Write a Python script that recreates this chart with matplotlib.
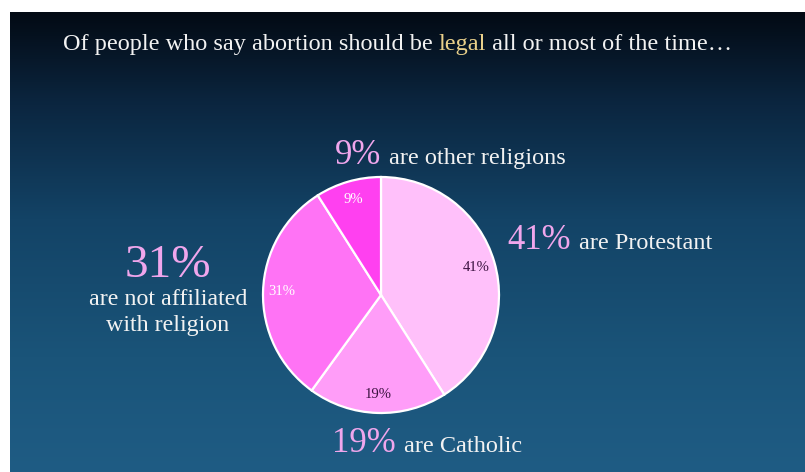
import matplotlib.pyplot as plt
import numpy as np
from matplotlib.colors import LinearSegmentedColormap

# data
groups = ['Protestant', 'Catholic', 'not affiliated', 'other religions']
shares = [41, 19, 31, 9]
slice_colors = ['#ffc0fa', '#ff9df8', '#ff73f5', '#ff40f0']
inner_text_colors = ['#3b1240', '#3b1240', '#ffffff', '#ffffff']

title_parts = ['Of people who say abortion should be ', 'legal',
               ' all or most of the time\u2026']
title_colors = ['#f2f2f2', '#e9d08a', '#f2f2f2']

W, H = 805, 472
serif = ['Liberation Serif', 'DejaVu Serif']

fig = plt.figure(figsize=(W / 100, H / 100), dpi=100)
fig.patch.set_facecolor('white')

# background with vertical gradient, pixel coordinates
bg = fig.add_axes([0, 0, 1, 1])
bg.set_xlim(0, W)
bg.set_ylim(H, 0)
bg.axis('off')
grad = LinearSegmentedColormap.from_list(
    'bg', [(0, '#030a14'), (0.2, '#0b2640'), (0.45, '#134366'),
           (0.75, '#1a5479'), (1, '#1f5c84')])
g = np.linspace(0, 1, 256).reshape(-1, 1)
bg.imshow(g, cmap=grad, extent=[10, W, H, 12], aspect='auto', zorder=0)

# pie
cx, cy, r = 381, 295, 118
pax = fig.add_axes([(cx - r) / W, (H - cy - r) / H, 2 * r / W, 2 * r / H])
wedges, _, autotexts = pax.pie(
    shares, colors=slice_colors, startangle=90, counterclock=False,
    autopct='%d%%', pctdistance=0.84,
    wedgeprops=dict(edgecolor='white', linewidth=1.6))
for w in wedges:
    w.set_clip_on(False)
for t, c in zip(autotexts, inner_text_colors):
    t.set_color(c)
    t.set_fontsize(10.5)
    t.set_family(serif)
pax.set_xlim(-1, 1)
pax.set_ylim(-1, 1)
pax.axis('off')

# title, with "legal" in gold
fig.canvas.draw()
renderer = fig.canvas.get_renderer()
x = 63
for part, col in zip(title_parts, title_colors):
    t = bg.text(x, 50, part, color=col, fontsize=17.5, family=serif,
                va='baseline', ha='left')
    bb = t.get_window_extent(renderer)
    x += bb.width


def pct_label(x0, y0, pct, rest, big=25, small=17.5):
    t = bg.text(x0, y0, pct, color='#f0a6ec', fontsize=big, family=serif,
                va='baseline', ha='left')
    bb = t.get_window_extent(renderer)
    bg.text(x0 + bb.width + 8, y0, rest, color='#f2f2f2', fontsize=small,
            family=serif, va='baseline', ha='left')


pct_label(335, 164, '%d%%' % shares[3], 'are other religions')
pct_label(507, 249, '%d%%' % shares[0], 'are Protestant')
pct_label(332, 452, '%d%%' % shares[1], 'are Catholic')

bg.text(168, 277, '%d%%' % shares[2], color='#f0a6ec', fontsize=34,
        family=serif, va='baseline', ha='center')
bg.text(168, 305, 'are not affiliated', color='#f2f2f2', fontsize=17.3,
        family=serif, va='baseline', ha='center')
bg.text(168, 331, 'with religion', color='#f2f2f2', fontsize=17.3,
        family=serif, va='baseline', ha='center')

fig.savefig('out.png', dpi=100)
